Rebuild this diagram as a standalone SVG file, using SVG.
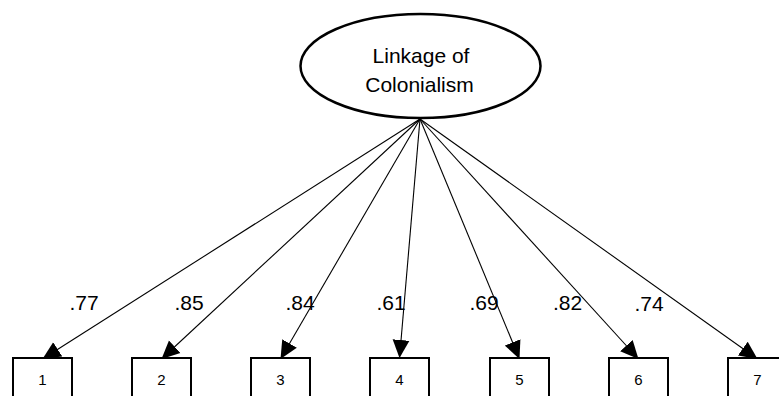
<svg xmlns="http://www.w3.org/2000/svg" width="779" height="396" viewBox="0 0 779 396">
<style>
text{font-family:"Liberation Sans",Arial,sans-serif;fill:#000;text-anchor:middle}
.t{font-size:21px}
.n{font-size:15px}
.box{fill:#fff;stroke:#000;stroke-width:2}
.c{stroke:#000;stroke-width:1.1;fill:none;marker-end:url(#ah)}
</style>
<defs>
<marker id="ah" markerUnits="userSpaceOnUse" markerWidth="18" markerHeight="18" viewBox="0 -8 16 16" refX="16" refY="0" orient="auto">
<path d="M0,-7.5 L16,0 L0,7.5 z" fill="#000"/>
</marker>
</defs>
<rect width="779" height="396" fill="#fff"/>
<g id="connectors">
<line class="c" x1="420" y1="119" x2="42.5" y2="359"/>
<line class="c" x1="420" y1="119" x2="161.5" y2="359"/>
<line class="c" x1="420" y1="119" x2="280.5" y2="359"/>
<line class="c" x1="420" y1="119" x2="399.5" y2="358"/>
<line class="c" x1="420" y1="119" x2="519.5" y2="359"/>
<line class="c" x1="420" y1="119" x2="638.5" y2="359"/>
<line class="c" x1="420" y1="119" x2="757.5" y2="359"/>
</g>
<g id="labels">
<text class="t" x="84" y="310">.77</text>
<text class="t" x="189" y="310">.85</text>
<text class="t" x="300" y="310">.84</text>
<text class="t" x="391" y="310">.61</text>
<text class="t" x="484" y="310">.69</text>
<text class="t" x="567.5" y="310">.82</text>
<text class="t" x="649" y="311">.74</text>
</g>
<g id="latent">
<ellipse cx="420.5" cy="66" rx="120" ry="52" fill="#fff" stroke="#000" stroke-width="2.5"/>
<text class="t" x="421" y="63">Linkage of</text>
<text class="t" x="419.5" y="92">Colonialism</text>
</g>
<g id="item1"><rect class="box" x="13" y="358" width="59" height="45"/><text class="n" x="42.5" y="385">1</text></g>
<g id="item2"><rect class="box" x="132" y="358" width="59" height="45"/><text class="n" x="161.5" y="385">2</text></g>
<g id="item3"><rect class="box" x="251" y="358" width="59" height="45"/><text class="n" x="280.5" y="385">3</text></g>
<g id="item4"><rect class="box" x="370" y="358" width="59" height="45"/><text class="n" x="399.5" y="385">4</text></g>
<g id="item5"><rect class="box" x="490" y="358" width="59" height="45"/><text class="n" x="519.5" y="385">5</text></g>
<g id="item6"><rect class="box" x="609" y="358" width="59" height="45"/><text class="n" x="638.5" y="385">6</text></g>
<g id="item7"><rect class="box" x="728" y="358" width="59" height="45"/><text class="n" x="757.5" y="385">7</text></g>
</svg>
